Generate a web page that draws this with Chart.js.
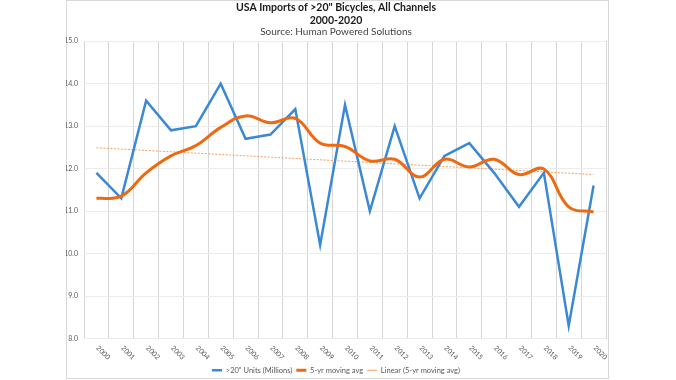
<!DOCTYPE html>
<html>
<head>
<meta charset="utf-8">
<script src="https://cdn.jsdelivr.net/npm/chart.js@4"></script>
<style>
  html, body { margin: 0; padding: 0; background: #ffffff; }
  #wrap { position: relative; width: 676px; height: 380px; }
</style>
</head>
<body>
<div id="wrap"><canvas id="c" width="676" height="380"></canvas></div>
<script>
const years = ['2000','2001','2002','2003','2004','2005','2006','2007','2008','2009','2010',
               '2011','2012','2013','2014','2015','2016','2017','2018','2019','2020'];
const units = [11.9, 11.3, 13.6, 12.9, 13.0, 14.0, 12.7, 12.8, 13.4, 10.2, 13.5,
               11.0, 13.0, 11.3, 12.3, 12.6, 11.9, 11.1, 11.9, 8.3, 11.6];
const movingAvg = [11.3, 11.35, 11.9, 12.3, 12.54, 12.97, 13.24, 13.08, 13.18, 12.6, 12.52,
                   12.18, 12.22, 11.8, 12.22, 12.04, 12.22, 11.86, 11.99, 11.1, 10.98];
const linearTrend = [12.49, null, null, null, null, null, null, null, null, null, null,
                     null, null, null, null, null, null, null, null, null, 11.86];
const yTicks = [8, 9, 10, 11, 12, 13, 14, 15];
const titleLines = ['USA Imports of >20" Bicycles, All Channels', '2000-2020'];
const subtitleText = 'Source: Human Powered Solutions';
const seriesNames = ['>20" Units (Millions)', '5-yr moving avg', 'Linear (5-yr moving avg)'];

const FONT = 'Lato, "Open Sans", sans-serif';
const BLUE = '#3B88D4';
const ORANGE = '#EE6A12';

const framePlugin = {
  id: 'frame',
  beforeDraw(chart) {
    const ctx = chart.ctx;
    ctx.save();
    ctx.fillStyle = '#ffffff';
    ctx.fillRect(0, 0, chart.width, chart.height);
    ctx.strokeStyle = '#d9d9d9';
    ctx.lineWidth = 1;
    ctx.strokeRect(66.5, 0.5, 542, 378);
    ctx.restore();
  }
};

const xLabelPlugin = {
  id: 'xlabels',
  afterDraw(chart) {
    const ctx = chart.ctx;
    const xs = chart.scales.x;
    const top = chart.chartArea.bottom;
    ctx.save();
    ctx.fillStyle = '#595959';
    ctx.font = '7px ' + FONT;
    ctx.textAlign = 'left';
    ctx.textBaseline = 'middle';
    years.forEach((lab, i) => {
      const x = xs.getPixelForTick(i);
      ctx.save();
      ctx.translate(x + 1, top + 8.5);
      ctx.rotate(Math.PI / 4);
      ctx.fillText(lab, 0, 0);
      ctx.restore();
    });
    ctx.restore();
  }
};

new Chart(document.getElementById('c'), {
  type: 'line',
  data: {
    labels: years,
    datasets: [
      {
        label: seriesNames[0], data: units, borderColor: BLUE, backgroundColor: BLUE,
        borderWidth: 2.5, pointRadius: 0, tension: 0, pointStyle: 'line', order: 2
      },
      {
        label: seriesNames[1], data: movingAvg, borderColor: ORANGE, backgroundColor: ORANGE,
        borderWidth: 3, pointRadius: 0, tension: 0.4, pointStyle: 'line', order: 1
      },
      {
        label: seriesNames[2], data: linearTrend, borderColor: '#F4A060', backgroundColor: '#F4A060',
        borderWidth: 1, borderDash: [2, 1.5], pointRadius: 0, spanGaps: true, pointStyle: 'line', order: 3
      }
    ]
  },
  options: {
    responsive: false,
    animation: false,
    layout: { padding: { left: 66, right: 70, top: 0, bottom: -4 } },
    plugins: {
      title: {
        display: true, text: titleLines, color: '#1a1a1a',
        font: { family: FONT, size: 10.5, weight: 'bold', lineHeight: 1.15 },
        padding: { top: 2, bottom: 0 }
      },
      subtitle: {
        display: true, text: subtitleText, color: '#444444',
        font: { family: FONT, size: 10, weight: 'normal', lineHeight: 1.2 },
        padding: { top: 0, bottom: 3 }
      },
      legend: {
        position: 'bottom',
        labels: {
          usePointStyle: true, pointStyleWidth: 10, boxHeight: 7,
          color: '#595959', padding: 4,
          font: { family: FONT, size: 7.5 },
          sort: (a, b) => a.datasetIndex - b.datasetIndex
        }
      },
      tooltip: { enabled: false }
    },
    scales: {
      x: {
        type: 'category', offset: true,
        grid: { offset: true, color: '#d6d6d6', drawTicks: false },
        border: { display: false },
        ticks: { display: false },
        afterFit(s) { s.height = 24; }
      },
      y: {
        min: 8, max: 15,
        afterBuildTicks(s) { s.ticks = yTicks.map(v => ({ value: v })); },
        grid: { color: '#ececec', drawTicks: false },
        border: { display: false },
        ticks: {
          padding: 6, color: '#595959', font: { family: FONT, size: 7 },
          callback: v => Number(v).toFixed(1)
        },
        afterFit(s) { s.width = 18; }
      }
    }
  },
  plugins: [framePlugin, xLabelPlugin]
});
</script>
</body>
</html>
